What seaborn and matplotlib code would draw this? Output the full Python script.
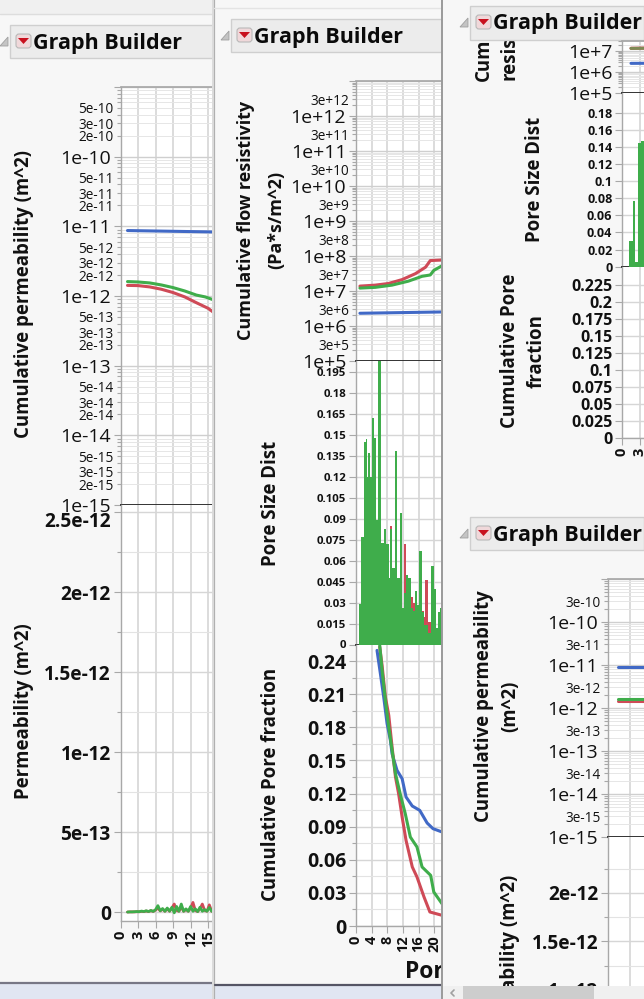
import numpy as np
import matplotlib
matplotlib.use("Agg")
import matplotlib.pyplot as plt
from matplotlib.patches import Rectangle, Polygon, FancyBboxPatch
import seaborn as sns

W, H = 644, 999
RED = "#cf4a57"
GREEN = "#3fad4b"
BLUE = "#4169c6"
BG = "#f7f7f7"

# %%
# cumulative permeability, window 1
perm_green_x = [1.2, 3, 5, 7, 9, 11, 13, 14.5, 16]
perm_green = [1.61e-12, 1.59e-12, 1.54e-12, 1.44e-12, 1.32e-12, 1.18e-12, 1.03e-12, 0.97e-12, 0.875e-12]
perm_red_x = [1.2, 3, 5, 7, 9, 11, 13, 15, 16]
perm_red = [1.42e-12, 1.41e-12, 1.35e-12, 1.25e-12, 1.12e-12, 0.97e-12, 0.80e-12, 0.665e-12, 0.576e-12]
perm_blue_x = [1.2, 16]
perm_blue = [8.7e-12, 8.3e-12]

# permeability per size (units of 1e-14)
local_x = [1.2, 1.6, 2, 2.4, 2.8, 3.2, 3.6, 4, 4.4, 4.8, 5.2, 5.6, 6, 6.4, 6.8, 7.2, 7.6, 8, 8.4,
           8.8, 9.2, 9.6, 10, 10.4, 10.8, 11.2, 11.6, 12, 12.4, 12.8, 13.2, 13.6, 14, 14.4, 14.8, 15.2, 15.6, 16]
local_green = [0, .1, .1, .2, .3, .2, .6, .3, .8, .3, 1, .4, 1.5, 4, .8, 2.2, .5, 2.5, .6,
               3, -.5, 3.5, .5, 5, .5, 2, .5, 3.5, .5, 2, .3, 3, .5, 1.5, .5, 2.8, .5, 2]
local_red = [0, .1, .1, .1, .2, .2, .4, .3, .6, .3, .8, .4, 1.2, 2.5, .7, 1.8, .5, 2, .5,
             2.5, 5, 1, .5, 3, .5, 1.5, .5, 2.5, 6, 1, .3, 2, 5, 1, .5, 4.5, .5, 3]

# %%
# flow resistivity, window 2
res_red_x = [1, 4.9, 8.3, 11.8, 15.2, 17.8, 19, 22]
res_red = [1.38e7, 1.47e7, 1.64e7, 2.12e7, 3.13e7, 4.8e7, 7.4e7, 7.7e7]
res_green_x = [1, 4.9, 9.2, 13.4, 16.9, 19, 19.9, 22]
res_green = [1.21e7, 1.27e7, 1.47e7, 1.91e7, 2.63e7, 2.87e7, 3.88e7, 5.25e7]
res_blue_x = [1, 22]
res_blue = [2.31e6, 2.52e6]

# pore size distribution bins
psd_edges = [.85, 1.28, 1.97, 2.56, 2.82, 3.16, 3.68, 4.19, 4.62, 5.13, 5.64, 6.41, 7.09, 7.78, 8.46, 8.8, 9.32,
             9.91, 10.43, 11.2, 11.79, 12.22, 12.91, 13.42, 14.1, 14.62, 15.13, 15.64, 16.24, 16.84, 17.35, 17.77,
             18.38, 19.06, 19.91, 20.34, 20.94, 21.45, 22.05]
psd_green = [.029, .077, .145, .147, .12, .137, .12, .162, .148, .089, .203, .073, .083, .072, .048, .083, .055, .139,
             .048, .094, .026, .037, .05, .048, .026, .024, .038, .028, .067, .023, .014, .014, .008, .056, .04, .012,
             .023, .026]
psd_red = [.02, .05, .1, .1, .08, .09, .08, .1, .1, .07, .12, .06, .07, .06, .04, .085, .05, .09, .04, .06, .02, .072,
           .04, .045, .034, .03, .03, .025, .05, .024, .02, .046, .016, .04, .03, .01, .02, .02]

# cumulative pore fraction
cum_blue_x = [5.38, 6.24, 7.09, 7.95, 8.8, 9.23, 10.5, 11.8, 12.8, 14.4, 16.3, 18.2, 19.7, 22]
cum_blue = [.2497, .2286, .2074, .1833, .1682, .1561, .141, .1335, .1169, .1087, .1048, .0933, .0882, .0852]
cum_green_x = [6.07, 6.67, 7.52, 8.38, 9.23, 10.1, 11.4, 12.6, 13.9, 15.6, 16.9, 19.1, 19.9, 22]
cum_green = [.2543, .2316, .2045, .1803, .1592, .138, .1184, .1018, .0806, .0716, .0535, .0459, .0308, .0202]
cum_red_x = [6.07, 6.67, 7.52, 8.38, 9.23, 10.1, 10.9, 11.8, 12.8, 14.4, 15.6, 17.4, 18.9, 22]
cum_red = [.2528, .2362, .2075, .1909, .1622, .135, .1199, .0988, .0776, .0535, .0444, .0263, .0127, .0097]

# %%
# window 3, top part
top_res_x = [1.5, 3.67]
top_res_red = [1.42e7, 1.45e7]
top_res_green = [1.40e7, 1.42e7]
top_res_blue = [2.7e6, 2.72e6]
top_edges = [1.22, 1.78, 2.17, 2.72, 3.1, 3.7]
top_psd_green = [.03, .077, .006, .145, .147]

# window 3, bottom part
low_x = [1.37, 4.9]
low_blue = [8.8e-12, 8.8e-12]
low_green = [1.6e-12, 1.6e-12]
low_red = [1.42e-12, 1.42e-12]


# %%
def layer(z):
    ax = fig.add_axes([0, 0, 1, 1], zorder=z)
    ax.set_xlim(0, W)
    ax.set_ylim(H, 0)
    ax.axis("off")
    return ax


def panel(left, top, right, bottom, z):
    ax = fig.add_axes([left / W, 1 - bottom / H, (right - left) / W, (bottom - top) / H], zorder=z)
    ax.set_facecolor("white")
    for s in ["top", "right"]:
        ax.spines[s].set_visible(False)
    for s in ["left", "bottom"]:
        ax.spines[s].set_color("#a8a8a8")
        ax.spines[s].set_linewidth(1.0)
    ax.tick_params(which="both", left=True, bottom=False, color="#a8a8a8", width=0.8, length=5, pad=2, labelcolor="#111111")
    ax.tick_params(which="minor", length=3)
    ax.set_axisbelow(True)
    return ax


def log_panel(ax, lo, hi, xmax, xticks, labels3=(), major_skip=(), major_size=14, minor_size=9.8):
    ax.set_yscale("log")
    ax.set_ylim(10.0 ** lo, 10.0 ** hi)
    ax.set_xlim(0, xmax)
    majors = [10.0 ** e for e in range(lo, hi + 1)]
    ax.set_yticks(majors)
    ax.set_yticklabels(["" if e in major_skip else f"1e{e:+d}" for e in range(lo, hi + 1)], fontsize=major_size)
    minors, minor_labels = [], []
    for e in range(lo, hi):
        for m in range(2, 10):
            minors.append(m * 10.0 ** e)
            minor_labels.append(f"{m}e{e:+d}" if m in labels3 else "")
    ax.set_yticks(minors, minor=True)
    ax.set_yticklabels(minor_labels, minor=True, fontsize=minor_size)
    ax.grid(True, which="major", axis="y", color="#cfcfcf", lw=1.0)
    ax.grid(True, which="minor", axis="y", color="#e6e6e6", lw=0.7)
    ax.set_xticks(xticks)
    ax.tick_params(axis="x", labelbottom=False, length=0)
    ax.grid(True, axis="x", color="#d6d6d6", lw=1.2)
    ax.spines["top"].set_visible(True)
    ax.spines["top"].set_color("#a8a8a8")
    ax.spines["bottom"].set_color("#333333")
    ax.spines["bottom"].set_linewidth(1.4)
    ax.xaxis.set_minor_locator(plt.NullLocator())


def lin_panel(ax, lo, hi, xmax, xticks, yticks, ylabels, size, minor=None, show_x=True, xsize=10.5):
    ax.set_xlim(0, xmax)
    ax.set_ylim(lo, hi)
    ax.set_yticks(yticks)
    ax.set_yticklabels(ylabels, fontsize=size, fontweight="bold")
    if minor is not None:
        ax.set_yticks(minor, minor=True)
        ax.grid(True, which="minor", axis="y", color="#e3e3e3", lw=0.8)
    ax.grid(True, which="major", axis="y", color="#d6d6d6", lw=1.0)
    ax.grid(True, axis="x", color="#d6d6d6", lw=1.2)
    ax.set_xticks(xticks)
    if show_x:
        ax.set_xticklabels([str(t) for t in xticks], rotation=90, fontsize=xsize, fontweight="bold")
        ax.tick_params(axis="x", bottom=True, length=5, pad=2)
    else:
        ax.tick_params(axis="x", labelbottom=False, length=0)


def line(ax, x, y, color, lw=2.2):
    sns.lineplot(x=x, y=y, color=color, linewidth=lw, ax=ax, legend=False, errorbar=None, sort=False)
    ax.set_xlabel("")
    ax.set_ylabel("")


def bars(ax, edges, heights, color):
    mids = (np.array(edges[:-1]) + np.array(edges[1:])) / 2
    sns.histplot(x=mids, weights=heights, bins=edges, color=color, alpha=1, linewidth=0, ax=ax, zorder=3)
    ax.set_xlabel("")
    ax.set_ylabel("")


def header(lay, x0, y0, x1, y1):
    lay.add_patch(Rectangle((x0, y0), x1 - x0, y1 - y0, fc="#ececec", ec="#cfcfcf", lw=1, zorder=6))
    lay.add_patch(Polygon([[x0 - 2, y0 + 21], [x0 - 10, y0 + 21], [x0 - 2, y0 + 12]], fc="#c4c4c4", ec="#a0a0a0", lw=0.6, zorder=6))
    lay.add_patch(FancyBboxPatch((x0 + 6, y0 + 9), 15, 14, boxstyle="round,pad=0,rounding_size=3", fc="#f0d8da", ec="#b8b8b8", lw=0.8, zorder=7))
    lay.add_patch(Polygon([[x0 + 8, y0 + 13], [x0 + 19, y0 + 13], [x0 + 13.5, y0 + 19]], fc="#c8101e", ec="none", zorder=8))
    lay.text(x0 + 23, y0 + 18, "Graph Builder", fontsize=15.5, fontweight="bold", va="center", ha="left", color="#0a0a0a", zorder=8)


def ylab(lay, x, y, s, size=13.4, va="center", spacing=1.45):
    lay.text(x + 2, y, s, rotation=90, fontsize=size, fontweight="bold", ha="center", va=va, color="#111111",
             linespacing=spacing, zorder=3, multialignment="center")


# %%
sns.set_theme(style="white")
plt.rcParams["font.family"] = ["Open Sans", "DejaVu Sans"]
fig = plt.figure(figsize=(W / 100, H / 100), dpi=100, facecolor=BG)

# window 1
lay1 = layer(0)
lay1.add_patch(Rectangle((0, 0), 214, 999, fc=BG, ec="none"))
lay1.add_patch(Rectangle((0, 0), 214, 14, fc="#f0f0f0", ec="none"))
lay1.plot([0, 214], [14, 14], color="#dddddd", lw=1)
lay1.add_patch(Rectangle((0, 983), 214, 16, fc="#e1e6f2", ec="none"))
lay1.plot([0, 214], [983, 983], color="#777785", lw=1.6)
header(lay1, 10, 25, 214, 58)
ylab(lay1, 22, 294, "Cumulative permeability (m^2)")
ylab(lay1, 22, 711, "Permeability (m^2)")

p = panel(120.5, 87, 214, 505, 1)
log_panel(p, -15, -9, 16, [0, 3, 6, 9, 12, 15], labels3=(2, 3, 5), major_skip=(-9,))
line(p, perm_blue_x, perm_blue, BLUE)
line(p, perm_red_x, perm_red, RED)
line(p, perm_green_x, perm_green, GREEN)

p = panel(120.5, 505, 214, 921, 1)
lin_panel(p, -5.6e-14, 2.544e-12, 16, [0, 3, 6, 9, 12, 15],
          [0, 5e-13, 1e-12, 1.5e-12, 2e-12, 2.5e-12], ["0", "5e-13", "1e-12", "1.5e-12", "2e-12", "2.5e-12"], 13.8,
          minor=[2.5e-13, 7.5e-13, 1.25e-12, 1.75e-12, 2.25e-12])
p.get_yticklabels()[-1].set_va("top")
line(p, local_x, np.array(local_red) * 1e-14, RED, lw=2)
line(p, local_x, np.array(local_green) * 1e-14, GREEN, lw=2)

# window 2
lay2 = layer(10)
lay2.add_patch(Rectangle((214, 0), 228, 999, fc=BG, ec="none"))
lay2.plot([214.5, 214.5], [0, 999], color="#b0b0b0", lw=1.6)
lay2.plot([213, 213], [0, 999], color="#dcdcdc", lw=1.4)
lay2.plot([214, 442], [8, 8], color="#e4e4e4", lw=1)
lay2.add_patch(Rectangle((215, 986), 227, 13, fc="#e1e6f2", ec="none"))
lay2.plot([215, 442], [985, 985], color="#555565", lw=1.6)
header(lay2, 231, 19, 442, 52)
ylab(lay2, 259, 220, "Cumulative flow resistivity\n(Pa*s/m^2)", size=13, spacing=1.85)
ylab(lay2, 269, 503, "Pore Size Dist")
ylab(lay2, 269, 784, "Cumulative Pore fraction")
lay2.text(405, 972, "Por", fontsize=16.5, fontweight="bold", va="center", ha="left", color="#111111", zorder=3)

p = panel(356, 81, 442, 361, 11)
log_panel(p, 5, 13, 22, [0, 4, 8, 12, 16, 20], labels3=(3,), major_skip=(13,))
line(p, res_blue_x, res_blue, BLUE)
line(p, res_red_x, res_red, RED)
line(p, res_green_x, res_green, GREEN)

p = panel(356, 361, 442, 644.5, 11)
psd_ticks = [0, .015, .03, .045, .06, .075, .09, .105, .12, .135, .15, .165, .18, .195]
lin_panel(p, 0, .2032, 22, [0, 4, 8, 12, 16, 20], psd_ticks,
          ["0", "0.015", "0.03", "0.045", "0.06", "0.075", "0.09", "0.105", "0.12", "0.135", "0.15", "0.165", "0.18", "0.195"],
          8.2, show_x=False)
bars(p, psd_edges, psd_red, RED)
bars(p, psd_edges, psd_green, GREEN)
p.set_xlim(0, 22)
p.set_ylim(0, .2032)
p.spines["bottom"].set_color("#333333")
p.spines["bottom"].set_linewidth(1.4)

p = panel(356, 645, 442, 926, 11)
lin_panel(p, 0, .2546, 22, [0, 4, 8, 12, 16, 20], [0, .03, .06, .09, .12, .15, .18, .21, .24],
          ["0", "0.03", "0.06", "0.09", "0.12", "0.15", "0.18", "0.21", "0.24"], 14,
          minor=[.015, .045, .075, .105, .135, .165, .195, .225])
line(p, cum_blue_x, cum_blue, BLUE)
line(p, cum_red_x, cum_red, RED)
line(p, cum_green_x, cum_green, GREEN)

# window 3
lay3 = layer(20)
lay3.add_patch(Rectangle((442, 0), 202, 999, fc=BG, ec="none"))
lay3.plot([442, 442], [0, 999], color="#9a9a9a", lw=1.4)
header(lay3, 470, 6, 644, 40)
header(lay3, 470, 517, 644, 550)
ylab(lay3, 482, 81, "Cum", va="bottom")
ylab(lay3, 508, 80, "resis", va="bottom")
ylab(lay3, 533, 179, "Pore Size Dist")
ylab(lay3, 521.5, 351, "Cumulative Pore\nfraction")
ylab(lay3, 495, 706, "Cumulative permeability\n(m^2)")
ylab(lay3, 508, 875, "ability (m^2)", va="top")

p = panel(622, 41, 644, 93.3, 21)
log_panel(p, 5, 8, 3.67, [0, 3], major_skip=(8,))
p.set_ylim(1e5, 10 ** 7.5)
line(p, top_res_x, top_res_blue, BLUE)
line(p, top_res_x, top_res_red, RED)
line(p, top_res_x, top_res_green, "#7f8a55")

p = panel(622, 93.3, 644, 266.7, 21)
lin_panel(p, 0, .2027, 3.67, [0, 3], [0, .02, .04, .06, .08, .1, .12, .14, .16, .18],
          ["0", "0.02", "0.04", "0.06", "0.08", "0.1", "0.12", "0.14", "0.16", "0.18"], 9, show_x=False)
bars(p, top_edges, top_psd_green, GREEN)
p.set_xlim(0, 3.67)
p.set_ylim(0, .2027)
p.spines["bottom"].set_color("#333333")
p.spines["bottom"].set_linewidth(1.4)

p = panel(622, 267, 644, 437.7, 21)
lin_panel(p, 0, .2515, 3.67, [0, 3], [0, .025, .05, .075, .1, .125, .15, .175, .2, .225],
          ["0", "0.025", "0.05", "0.075", "0.1", "0.125", "0.15", "0.175", "0.2", "0.225"], 11.5)

p = panel(608, 579, 644, 837, 21)
log_panel(p, -15, -9, 4.93, [0, 3], labels3=(3,), major_skip=(-9,))
line(p, low_x, low_blue, BLUE)
line(p, low_x, low_red, RED)
line(p, low_x, low_green, GREEN)

p = panel(608, 837, 644, 999, 21)
lin_panel(p, .907e-12, 2.577e-12, 4.93, [0, 3], [1e-12, 1.5e-12, 2e-12],
          ["1e-12", "1.5e-12", "2e-12"], 13.8, minor=[1.25e-12, 1.75e-12, 2.25e-12], show_x=False)

# scrollbar on top of everything
top = layer(30)
top.add_patch(Rectangle((443, 986), 201, 13, fc="#f0f0f0", ec="none"))
top.add_patch(Rectangle((463, 986), 131, 13, fc="#cdcdcd", ec="none"))
top.plot([454, 451, 454], [990, 993, 996], color="#a0a0a0", lw=1.2)

fig.savefig("out.png", dpi=100, facecolor=BG)
